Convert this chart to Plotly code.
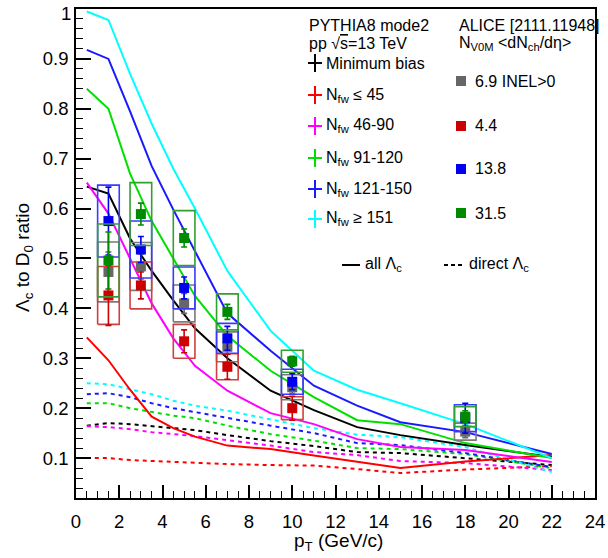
import plotly.graph_objects as go

# ---------------- PYTHIA8 mode2 predictions (Lambda_c / D0 vs pT) ----------------
pt_model = [0.5, 1.5, 2.5, 3.5, 4.5, 5.5, 7, 9, 11, 13, 15, 18, 22]

# all Lambda_c (solid)
mb_all = [0.644, 0.630, 0.540, 0.475, 0.416, 0.360, 0.300, 0.235, 0.196, 0.162, 0.146, 0.126, 0.102]
fw45_all = [0.342, 0.296, 0.237, 0.183, 0.160, 0.143, 0.125, 0.118, 0.105, 0.092, 0.080, 0.093, 0.106]
fw46_all = [0.652, 0.590, 0.500, 0.410, 0.340, 0.285, 0.235, 0.190, 0.168, 0.138, 0.122, 0.116, 0.092]
fw91_all = [0.840, 0.800, 0.670, 0.575, 0.500, 0.425, 0.345, 0.275, 0.222, 0.176, 0.168, 0.130, 0.100]
fw121_all = [0.918, 0.900, 0.795, 0.685, 0.598, 0.515, 0.390, 0.315, 0.245, 0.205, 0.172, 0.152, 0.108]
fw151_all = [0.995, 0.978, 0.870, 0.770, 0.680, 0.600, 0.475, 0.355, 0.275, 0.237, 0.210, 0.168, 0.100]

# direct Lambda_c (dashed)
mb_dir = [0.165, 0.170, 0.168, 0.164, 0.160, 0.156, 0.146, 0.134, 0.124, 0.112, 0.110, 0.100, 0.086]
fw45_dir = [0.100, 0.100, 0.096, 0.094, 0.092, 0.090, 0.088, 0.086, 0.085, 0.078, 0.070, 0.077, 0.084]
fw46_dir = [0.164, 0.162, 0.158, 0.152, 0.148, 0.144, 0.136, 0.125, 0.112, 0.106, 0.094, 0.090, 0.076]
fw91_dir = [0.210, 0.210, 0.200, 0.192, 0.185, 0.180, 0.165, 0.148, 0.135, 0.120, 0.118, 0.108, 0.080]
fw121_dir = [0.228, 0.230, 0.222, 0.210, 0.200, 0.192, 0.180, 0.165, 0.150, 0.130, 0.126, 0.110, 0.082]
fw151_dir = [0.250, 0.248, 0.238, 0.228, 0.215, 0.205, 0.195, 0.178, 0.160, 0.147, 0.142, 0.122, 0.072]

# ---------------- ALICE measurements ----------------
pt_data = [1.5, 3, 5, 7, 10, 18]
inel_val = [0.473, 0.484, 0.410, 0.323, 0.242, 0.153]
inel_stat = [0.040, 0.025, 0.020, 0.015, 0.012, 0.012]
inel_syst = [0.060, 0.048, 0.037, 0.030, 0.025, 0.017]

pt_low = [1.5, 3, 5, 7, 10]
low_val = [0.426, 0.446, 0.334, 0.283, 0.200]
low_stat = [0.060, 0.027, 0.023, 0.025, 0.024]
low_syst = [0.058, 0.047, 0.034, 0.026, 0.023]

mid_val = [0.575, 0.518, 0.441, 0.340, 0.253, 0.180]
mid_stat = [0.068, 0.026, 0.022, 0.024, 0.016, 0.030]
mid_syst = [0.072, 0.057, 0.042, 0.030, 0.025, 0.027]

high_val = [0.496, 0.589, 0.541, 0.393, 0.294, 0.183]
high_stat = [0.057, 0.022, 0.018, 0.015, 0.010, 0.012]
high_syst = [0.073, 0.063, 0.055, 0.036, 0.022, 0.020]

x_ticks = [0, 2, 4, 6, 8, 10, 12, 14, 16, 18, 20, 22, 24]
y_ticks = [0.1, 0.2, 0.3, 0.4, 0.5, 0.6, 0.7, 0.8, 0.9, 1.0]
y_tick_text = ["0.1", "0.2", "0.3", "0.4", "0.5", "0.6", "0.7", "0.8", "0.9", "1"]

FONT = "Liberation Sans, Arial, Helvetica, sans-serif"
W, H = 608, 558
L, R, T, B = 76, 13, 9, 60
PW, PH = W - L - R, H - T - B

BOX_HALF = 0.5

fig = go.Figure()

model_series = [
    (mb_all, mb_dir, "black"),
    (fw45_all, fw45_dir, "#ff0000"),
    (fw46_all, fw46_dir, "#ff00ff"),
    (fw91_all, fw91_dir, "#00e000"),
    (fw121_all, fw121_dir, "#1a1aff"),
    (fw151_all, fw151_dir, "#00ffff"),
]
for all_v, dir_v, col in model_series:
    fig.add_trace(go.Scatter(x=pt_model, y=dir_v, mode="lines",
                             line=dict(color=col, width=2, dash="4px,4px"),
                             hoverinfo="skip"))
for all_v, dir_v, col in model_series:
    fig.add_trace(go.Scatter(x=pt_model, y=all_v, mode="lines",
                             line=dict(color=col, width=2), hoverinfo="skip"))


def add_measurement(xs, vals, stats, systs, mcol, bcol):
    bx, by = [], []
    for x, v, s in zip(xs, vals, systs):
        bx += [x - BOX_HALF, x + BOX_HALF, x + BOX_HALF, x - BOX_HALF, x - BOX_HALF, None]
        by += [v - s, v - s, v + s, v + s, v - s, None]
    fig.add_trace(go.Scatter(x=bx, y=by, mode="lines",
                             line=dict(color=bcol, width=1.6), hoverinfo="skip"))
    fig.add_trace(go.Scatter(x=xs, y=vals, mode="markers",
                             marker=dict(symbol="square", size=10, color=mcol,
                                         line=dict(width=0)),
                             error_y=dict(type="data", array=stats, color=mcol,
                                          thickness=1.6, width=3)))


add_measurement(pt_data, inel_val, inel_stat, inel_syst, "#666666", "#7a7a7a")
add_measurement(pt_low, low_val, low_stat, low_syst, "#cc0000", "#d04040")
add_measurement(pt_data, mid_val, mid_stat, mid_syst, "#0000ee", "#3a3aff")
add_measurement(pt_data, high_val, high_stat, high_syst, "#008a00", "#30a030")


# ---------------- legend block (drawn in pixel positions) ----------------
def fx(p):
    return (p - L) / PW


def fy(p):
    return (H - B - p) / PH


shapes = []
annotations = []


def text(xp, yp, s, size=16, anchor="left"):
    annotations.append(dict(x=fx(xp), y=fy(yp), xref="paper", yref="paper",
                            text=s, showarrow=False, xanchor=anchor, yanchor="middle",
                            font=dict(family=FONT, size=size, color="black")))


def cross(xc, yc, col):
    shapes.append(dict(type="line", xref="paper", yref="paper",
                       x0=fx(xc - 7), x1=fx(xc + 7), y0=fy(yc), y1=fy(yc),
                       line=dict(color=col, width=2)))
    shapes.append(dict(type="line", xref="paper", yref="paper",
                       x0=fx(xc), x1=fx(xc), y0=fy(yc - 9), y1=fy(yc + 9),
                       line=dict(color=col, width=2)))


def square(xc, yc, col):
    shapes.append(dict(type="rect", xref="paper", yref="paper",
                       x0=fx(xc - 5), x1=fx(xc + 5), y0=fy(yc - 5), y1=fy(yc + 5),
                       fillcolor=col, line=dict(width=0)))


text(307, 25, "PYTHIA8 mode2")
text(307, 44, "pp √<span style='text-decoration:overline'>s</span>=13 TeV")
text(457, 25, "ALICE [2111.11948]")
text(457, 44, "N<sub>V0M</sub> &lt;dN<sub>ch</sub>/dη&gt;")

left_items = [
    (63, "black", "Minimum bias"),
    (95, "#ff0000", "N<sub>fw</sub> ≤ 45"),
    (126, "#ff00ff", "N<sub>fw</sub> 46-90"),
    (158, "#00e000", "N<sub>fw</sub> 91-120"),
    (189, "#1a1aff", "N<sub>fw</sub> 121-150"),
    (219, "#00ffff", "N<sub>fw</sub> ≥ 151"),
]
for yc, col, lab in left_items:
    cross(315, yc, col)
    text(324, yc, lab)

right_items = [
    (81, "#666666", "6.9 INEL&gt;0"),
    (126, "#cc0000", "4.4"),
    (169, "#0000ee", "13.8"),
    (213, "#008a00", "31.5"),
]
for yc, col, lab in right_items:
    square(461, yc, col)
    text(473, yc, lab)

shapes.append(dict(type="line", xref="paper", yref="paper",
                   x0=fx(342), x1=fx(360), y0=fy(265), y1=fy(265),
                   line=dict(color="black", width=2)))
text(363, 264, "all Λ<sub>c</sub>")
shapes.append(dict(type="line", xref="paper", yref="paper",
                   x0=fx(444), x1=fx(464), y0=fy(265), y1=fy(265),
                   line=dict(color="black", width=2, dash="4px,3px")))
text(467, 264, "direct Λ<sub>c</sub>")

# the top y label sits just below the frame edge so it stays inside the page
annotations.append(dict(x=fx(73), y=fy(13), xref="paper", yref="paper",
                        text=y_tick_text[-1], showarrow=False,
                        xanchor="right", yanchor="middle",
                        font=dict(family=FONT, size=18.5, color="black")))
axis_tick_text = y_tick_text[:-1] + [""]

# axis titles
annotations.append(dict(x=fx(338), y=fy(542), xref="paper", yref="paper",
                        text="p<sub>T</sub> (GeV/c)", showarrow=False,
                        xanchor="center", yanchor="middle",
                        font=dict(family=FONT, size=19, color="black")))
annotations.append(dict(x=fx(24), y=fy(258), xref="paper", yref="paper",
                        text="Λ<sub>c</sub> to D<sub>0</sub> ratio", showarrow=False,
                        textangle=-90, xanchor="center", yanchor="middle",
                        font=dict(family=FONT, size=19, color="black")))

fig.update_layout(
    width=W, height=H,
    margin=dict(l=L, r=R, t=T, b=B, pad=0, autoexpand=False),
    paper_bgcolor="white", plot_bgcolor="white",
    showlegend=False,
    shapes=shapes, annotations=annotations,
    font=dict(family=FONT, color="black"),
)
fig.update_xaxes(range=[0, 24], tickvals=x_ticks, ticktext=[str(v) for v in x_ticks],
                 automargin=False, ticklabeloverflow="allow",
                 ticks="inside", ticklen=13, tickwidth=1.5, tickcolor="black",
                 showline=True, linecolor="black", linewidth=1.6, mirror=True,
                 showgrid=False, zeroline=False,
                 tickfont=dict(family=FONT, size=18.5, color="black"),
                 ticklabelstandoff=6,
                 minor=dict(dtick=0.5, ticks="inside", ticklen=7, tickwidth=1.2,
                            tickcolor="black", showgrid=False))
fig.update_yaxes(range=[0.02, 1.0], tickvals=y_ticks, ticktext=axis_tick_text,
                 automargin=False, ticklabeloverflow="allow",
                 ticks="inside", ticklen=15, tickwidth=1.5, tickcolor="black",
                 showline=True, linecolor="black", linewidth=1.6, mirror=True,
                 showgrid=False, zeroline=False,
                 tickfont=dict(family=FONT, size=18.5, color="black"),
                 ticklabelstandoff=2,
                 minor=dict(tick0=0, dtick=0.02, ticks="inside", ticklen=7, tickwidth=1.2,
                            tickcolor="black", showgrid=False))

fig.write_html("out.html")
